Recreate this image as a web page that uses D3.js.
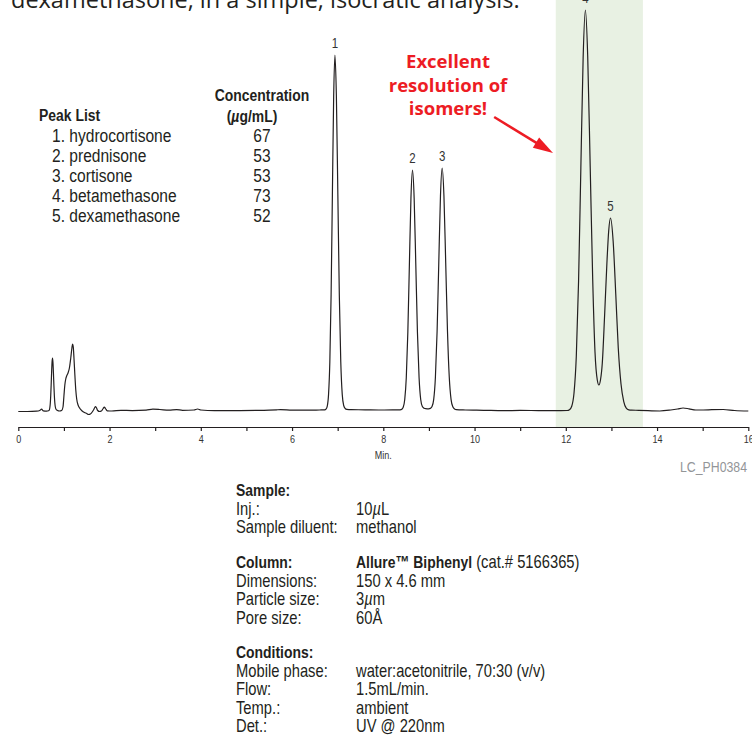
<!DOCTYPE html>
<html>
<head>
<meta charset="utf-8">
<script src="https://cdn.jsdelivr.net/npm/d3@7"></script>
<style>
  body { margin: 0; background: #fff; }
  svg { display: block; }
</style>
</head>
<body>
<script>
// DATA
const trace = [
  [0.00, -1.5], [0.20, -1.5], [0.40, -1.2], [0.47, -0.5], [0.51, 0.8], [0.55, -0.8], [0.62, -1.2], [0.66, -0.8],
  [0.675, -0.4], [0.69, 2], [0.70, 6], [0.71, 13.7], [0.72, 24.8], [0.73, 37.5], [0.74, 47.9], [0.75, 52],
  [0.76, 47.5], [0.77, 37], [0.78, 25], [0.79, 14.5], [0.80, 7.5], [0.81, 3.5], [0.83, 0.5], [0.86, -0.5],
  [0.90, -1], [0.95, -0.5], [0.98, 3], [1.00, 14], [1.02, 25], [1.04, 31], [1.06, 34], [1.09, 37], [1.12, 42],
  [1.15, 52], [1.175, 62], [1.19, 66], [1.205, 63], [1.22, 52], [1.24, 35], [1.26, 20], [1.28, 11], [1.31, 5],
  [1.35, 1.5], [1.40, -1], [1.45, -2.5], [1.50, -3.5], [1.54, -4.5], [1.58, -4], [1.62, -2], [1.66, 1],
  [1.69, 3.3], [1.71, 2.5], [1.74, -0.5], [1.78, -1.5], [1.82, -1], [1.86, 1.5], [1.885, 3], [1.91, 1.5],
  [1.95, -0.8], [2.05, -1], [2.25, -0.3], [2.50, -0.6], [2.80, -0.2], [2.95, 0.8], [3.10, 0.5], [3.30, -0.2],
  [3.47, 0.4], [3.60, -0.3], [3.85, 0], [3.93, 1.0], [4.00, 0], [4.30, -0.7], [4.80, -0.6], [5.30, -0.4],
  [5.66, 0.2], [5.75, 0.3], [6.00, -0.1], [6.40, -0.2], [6.60, 0],
  [6.716, 0.1], [6.744, 0.8], [6.772, 3.9], [6.80, 15.6], [6.828, 48], [6.856, 115], [6.884, 215], [6.912, 313],
  [6.94, 355], [6.972, 313], [7.004, 215], [7.036, 115], [7.068, 48], [7.10, 15.6], [7.132, 4.5], [7.164, 1.5],
  [7.20, 0.6], [7.30, 0.3], [7.60, 0.2], [7.90, 0], [8.20, 0.1],
  [8.368, 0.2], [8.402, 0.6], [8.436, 2.7], [8.47, 10.5], [8.504, 32.5], [8.538, 78], [8.572, 146], [8.606, 212],
  [8.64, 240], [8.676, 212], [8.712, 146], [8.748, 78], [8.784, 32.5], [8.82, 10.5], [8.856, 3.5], [8.892, 1.8],
  [8.93, 1.3], [8.96, 1.2],
  [8.994, 1.2], [9.031, 1.6], [9.068, 3.5], [9.105, 10.6], [9.142, 32.7], [9.179, 78.6], [9.216, 147], [9.253, 214],
  [9.29, 242], [9.329, 214], [9.368, 147], [9.407, 78.6], [9.446, 32.7], [9.485, 10.6], [9.524, 3.2], [9.563, 1],
  [9.60, 0.3], [9.80, 0], [10.20, -0.3], [10.63, -0.7], [11.00, -0.4], [11.40, -0.6], [11.76, -0.7],
  [12.03, -0.5], [12.08, 0.3], [12.13, 3.8], [12.18, 17], [12.23, 53.5], [12.28, 129], [12.33, 242], [12.38, 352],
  [12.43, 400], [12.48, 354], [12.535, 243], [12.59, 130], [12.64, 58], [12.69, 30], [12.725, 25], [12.76, 30],
  [12.80, 47], [12.85, 94], [12.90, 146], [12.94, 179], [12.98, 192], [13.0375, 169], [13.095, 116], [13.15, 62],
  [13.21, 26], [13.27, 8.4], [13.325, 1.8], [13.38, 0.1], [13.44, -0.2], [13.60, -0.3], [14.06, -1], [14.30, 0],
  [14.45, 1], [14.57, 2], [14.70, 1.2], [14.85, 0], [15.01, 0], [15.20, 0.3], [15.45, 0.5], [15.70, -0.5], [16.00, -1]
];

const peakNumbers = [1, 2, 3, 4, 5];
const peakTimes = [6.94, 8.64, 9.29, 12.43, 12.98];
const peakHeights = [355, 240, 242, 400, 192];

const compounds = ["hydrocortisone", "prednisone", "cortisone", "betamethasone", "dexamethasone"];
const concentrations = [67, 53, 53, 73, 52];

const tickMinutes = [0, 1, 2, 3, 4, 5, 6, 7, 8, 9, 10, 11, 12, 13, 14, 15, 16];
const tickLabels = ["0", "", "2", "", "4", "", "6", "", "8", "", "10", "", "12", "", "14", "", "16"];

const isomerWindow = [11.78, 13.69];
const arrowFrom = [10.43, 293];
const arrowTo = [11.72, 257];

const annotationLines = ["Excellent", "resolution of", "isomers!"];

const sampleRows = [["Inj.:", "10µL"], ["Sample diluent:", "methanol"]];
const columnRows = [["Dimensions:", "150 x 4.6 mm"], ["Particle size:", "3µm"], ["Pore size:", "60Å"]];
const conditionRows = [
  ["Mobile phase:", "water:acetonitrile, 70:30 (v/v)"],
  ["Flow:", "1.5mL/min."],
  ["Temp.:", "ambient"],
  ["Det.:", "UV @ 220nm"]
];

// CANVAS SETUP
const W = 752, H = 754;
const ink = "#231f20";
const sansFont = "'Liberation Sans', Arial, sans-serif";
const squeeze = 0.82; // condensed look
const axisY = 427;

const svg = d3.select("body").append("svg").attr("width", W).attr("height", H);
svg.append("rect").attr("width", W).attr("height", H).attr("fill", "#fff");

const x = d3.scaleLinear().domain([0, 16]).range([18.3, 748.3]);
const y = d3.scaleLinear().domain([0, 400]).range([410, 10]);

// condensed text helper
function ntext(parent, px, py, size) {
  return parent.append("text")
    .attr("transform", `translate(${px},${py}) scale(${squeeze},1)`)
    .attr("font-family", sansFont)
    .attr("font-size", size)
    .attr("fill", ink);
}

function richText(sel, s) {
  s.split(/(µ)/).forEach((part) => {
    if (!part) return;
    const t = sel.append("tspan").text(part);
    if (part === "µ") t.attr("font-style", "italic");
  });
}

// highlighted isomer window
svg.append("rect")
  .attr("x", x(isomerWindow[0]))
  .attr("y", 0)
  .attr("width", x(isomerWindow[1]) - x(isomerWindow[0]))
  .attr("height", axisY)
  .attr("fill", "#e8f1e3");

// clipped intro sentence at the top
svg.append("text")
  .attr("x", 11)
  .attr("y", 8)
  .attr("font-family", "'Open Sans', sans-serif")
  .attr("font-size", 23.5)
  .attr("fill", ink)
  .text("dexamethasone, in a simple, isocratic analysis.");

// TRACE
const line = d3.line()
  .x((d) => x(d[0]))
  .y((d) => y(d[1]))
  .curve(d3.curveMonotoneX);

svg.append("path")
  .datum(trace)
  .attr("d", line)
  .attr("fill", "none")
  .attr("stroke", ink)
  .attr("stroke-width", 1.2)
  .attr("stroke-linejoin", "round");

const peakG = svg.append("g");
peakNumbers.forEach((n, i) => {
  ntext(peakG, x(peakTimes[i]), y(peakHeights[i]) - 7, 14)
    .attr("text-anchor", "middle")
    .attr("fill", "#333")
    .text(n);
});

// AXIS
const axis = d3.axisBottom(x)
  .tickValues(tickMinutes)
  .tickFormat((d, i) => tickLabels[i])
  .tickSize(4)
  .tickSizeOuter(0)
  .tickPadding(4);

const gAxis = svg.append("g").attr("transform", `translate(0,${axisY})`).call(axis);
gAxis.select(".domain").attr("stroke", ink).attr("stroke-width", 1.2);
gAxis.selectAll(".tick line").attr("stroke", ink).attr("stroke-width", 1.2);
gAxis.selectAll(".tick text")
  .attr("transform", `scale(${squeeze},1)`)
  .attr("font-family", sansFont)
  .attr("font-size", 11)
  .attr("fill", "#333");

ntext(svg, x(8), 459, 11).attr("text-anchor", "middle").attr("fill", "#333").text("Min.");
ntext(svg, 747, 472, 15).attr("text-anchor", "end").attr("fill", "#939598").text("LC_PH0384");

// ANNOTATION
const red = "#ed1c24";
svg.append("g")
  .selectAll("text")
  .data(annotationLines)
  .join("text")
  .attr("x", 448)
  .attr("y", (d, i) => 68 + i * 23.5)
  .attr("text-anchor", "middle")
  .attr("font-family", "'Open Sans', sans-serif")
  .attr("font-weight", 700)
  .attr("font-size", 18.5)
  .attr("fill", red)
  .text((d) => d);

const ax0 = x(arrowFrom[0]), ay0 = y(arrowFrom[1]);
const ax1 = x(arrowTo[0]), ay1 = y(arrowTo[1]);
const ang = Math.atan2(ay1 - ay0, ax1 - ax0);
const headLen = 20, headHalf = 6;
const bx = ax1 - headLen * Math.cos(ang), by = ay1 - headLen * Math.sin(ang);
svg.append("line")
  .attr("x1", ax0).attr("y1", ay0)
  .attr("x2", bx + 2 * Math.cos(ang)).attr("y2", by + 2 * Math.sin(ang))
  .attr("stroke", red)
  .attr("stroke-width", 2.5);
svg.append("path")
  .attr("d", `M${ax1},${ay1}L${bx - headHalf * Math.sin(ang)},${by + headHalf * Math.cos(ang)}L${bx + headHalf * Math.sin(ang)},${by - headHalf * Math.cos(ang)}Z`)
  .attr("fill", red);

// PEAK LIST
const list = svg.append("g");
ntext(list, 39, 121, 17).attr("font-weight", 700).text("Peak List");
ntext(list, 262, 101, 17).attr("font-weight", 700).attr("text-anchor", "middle").text("Concentration");
const unit = ntext(list, 252, 122, 17).attr("font-weight", 700).attr("text-anchor", "middle");
unit.append("tspan").text("(");
unit.append("tspan").attr("font-style", "italic").text("µ");
unit.append("tspan").text("g/mL)");

compounds.forEach((c, i) => {
  ntext(list, 52, 141.5 + i * 20, 19).text(`${peakNumbers[i]}. ${c}`);
  ntext(list, 262, 141.5 + i * 20, 19).attr("text-anchor", "middle").text(concentrations[i]);
});

// METHOD DETAILS
const info = svg.append("g");
const col1 = 236, col2 = 356, lh = 18.6;

function block(title, rows, top, extra) {
  ntext(info, col1, top, 17).attr("font-weight", 700).text(title);
  if (extra) extra(top);
  rows.forEach((r, i) => {
    const yy = top + (i + 1) * lh;
    ntext(info, col1, yy, 18).text(r[0]);
    richText(ntext(info, col2, yy, 18), r[1]);
  });
}

block("Sample:", sampleRows, 496);
block("Column:", columnRows, 568, (top) => {
  const t = ntext(info, col2, top, 18);
  t.append("tspan").attr("font-weight", 700).attr("font-size", 17).text("Allure™ Biphenyl");
  t.append("tspan").text(" (cat.# 5166365)");
});
block("Conditions:", conditionRows, 658);
</script>
</body>
</html>
